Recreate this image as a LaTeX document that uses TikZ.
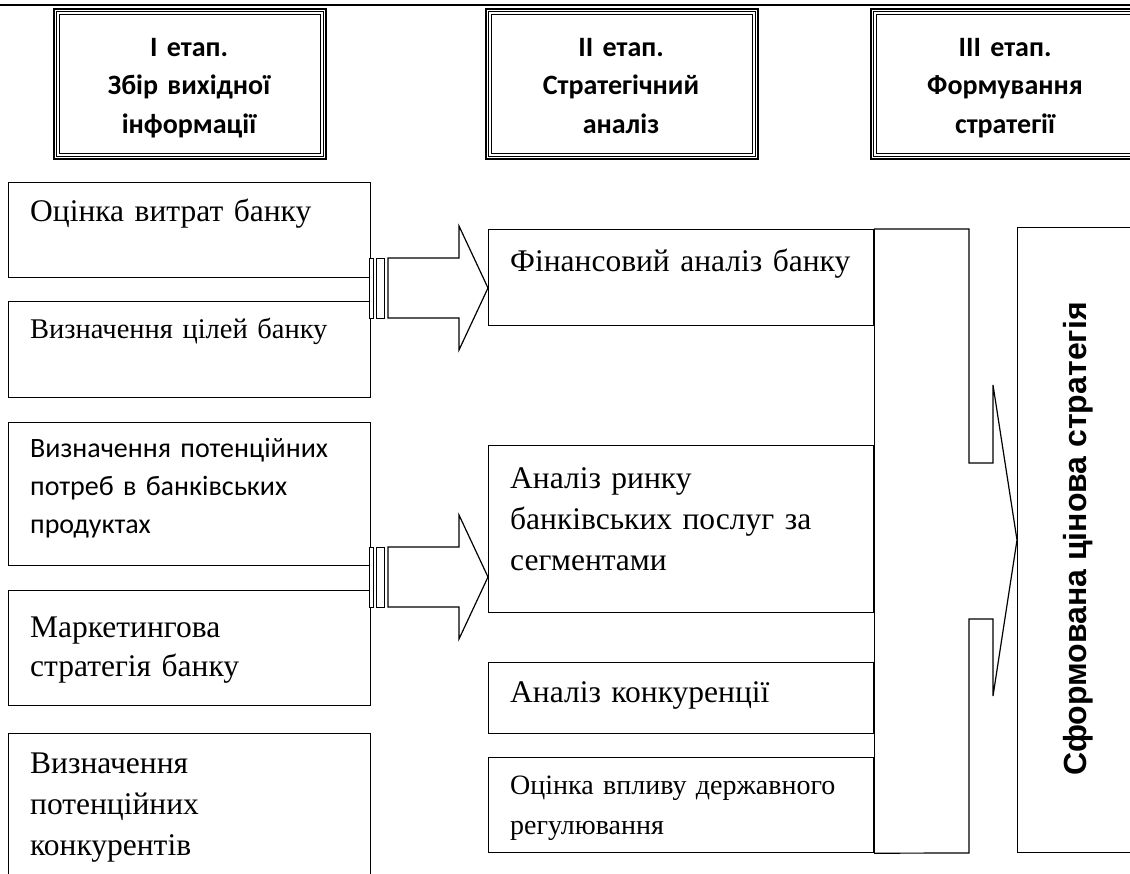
\documentclass[tikz,border=0pt]{standalone}
\usepackage{fontspec}
\setmainfont{Liberation Serif}
\newfontfamily\calfont{Carlito}
\newfontfamily\arialfont{Liberation Sans}
\usetikzlibrary{calc}
\begin{document}
\begin{tikzpicture}[x=1pt,y=-1pt,
  box/.style={draw, line width=1.2pt, anchor=north west, inner sep=0pt},
  hbox/.style={draw, line width=2pt, anchor=north west, inner sep=0pt, minimum width=272pt, minimum height=150pt},
  txt/.style={anchor=base west, inner sep=0pt, align=left, text width=#1},
  htxt/.style={anchor=base, inner sep=0pt, align=center, text width=260pt, font=\calfont\bfseries\fontsize{28}{38.5}\selectfont},
  blk/.style={draw, line width=1.2pt, fill=white},
  stripe/.style={draw, line width=0.8pt, fill=white}
]
\useasboundingbox (0,0) rectangle (1130,874);
\clip (0,0) rectangle (1130,874);
\fill[white] (0,0) rectangle (1130,874);

% top rule
\draw[line width=2pt] (0,5.5) -- (1130,5.5);

% header boxes
\node[hbox] (h1) at (53,8) {};
\node[hbox] (h2) at (485,8) {};
\node[hbox] (h3) at (870,8) {};
\foreach \h in {h1,h2,h3}{
  \draw[line width=0.8pt] ([shift={(3.8,3.8)}]\h.north west) rectangle ([shift={(-3.8,-3.8)}]\h.south east);
  \draw[line width=1.2pt] ([shift={(6.5,6.5)}]\h.north west) rectangle ([shift={(-6.5,-6.5)}]\h.south east);
}
\node[htxt] (h1t) at (189,56.5) {I етап.\\Збір вихідної\\інформації};
\node[htxt] (h2t) at (621,56.5) {II етап.\\Стратегічний\\аналіз};
\node[htxt] (h3t) at (1005,56.5) {III етап.\\Формування\\стратегії};

% left column
\node[box, minimum width=362pt, minimum height=95pt] (l1) at (8,182) {};
\node[txt=345pt, font=\fontsize{31.5}{38}\selectfont] (l1t) at (30,222) {Оцінка витрат банку};
\node[box, minimum width=362pt, minimum height=96pt] (l2) at (8,301) {};
\node[txt=345pt, font=\fontsize{28.5}{38}\selectfont] (l2t) at (30,339) {Визначення цілей банку};
\node[box, minimum width=362pt, minimum height=143pt] (l3) at (8,422) {};
\node[txt=345pt, font=\calfont\fontsize{28}{38}\selectfont] (l3t) at (30,457) {Визначення потенційних\\потреб в банківських\\продуктах};
\node[box, minimum width=362pt, minimum height=115pt] (l4) at (8,590) {};
\node[txt=345pt, font=\fontsize{31.5}{39}\selectfont] (l4t) at (30,637) {Маркетингова\\стратегія банку};
\node[box, minimum width=362pt, minimum height=160pt] (l5) at (8,733) {};
\node[txt=345pt, font=\fontsize{31.5}{41}\selectfont] (l5t) at (30,773) {Визначення\\потенційних\\конкурентів};

% middle column
\node[box, minimum width=385pt, minimum height=96pt] (m1) at (488,229) {};
\node[txt=360pt, font=\fontsize{31.5}{40}\selectfont] (m1t) at (510,272) {Фінансовий аналіз банку};
\node[box, minimum width=385pt, minimum height=167pt] (m2) at (488,445) {};
\node[txt=360pt, font=\fontsize{31.5}{41}\selectfont] (m2t) at (510,488) {Аналіз ринку\\банківських послуг за\\сегментами};
\node[box, minimum width=385pt, minimum height=71pt] (m3) at (488,662) {};
\node[txt=360pt, font=\fontsize{31.5}{40}\selectfont] (m3t) at (510,702) {Аналіз конкуренції};
\node[box, minimum width=385pt, minimum height=95pt] (m4) at (488,757) {};
\node[txt=360pt, font=\fontsize{28}{40}\selectfont] (m4t) at (510,794) {Оцінка впливу державного\\регулювання};

% striped arrows from left column to middle column
\foreach \yc/\tgt in {288/m1, 577/m2}{
  \draw[stripe] (369,\yc-30) rectangle (373,\yc+30);
  \draw[stripe] (376,\yc-30) rectangle (384,\yc+30);
  \draw[blk] (388,\yc-30) -- (459,\yc-30) -- (459,\yc-62) -- (\tgt.west |- 0,\yc) -- (459,\yc+62) -- (459,\yc+30) -- (388,\yc+30) -- cycle;
}

% result box
\node[box, minimum width=140pt, minimum height=625pt] (res) at (1017,227) {};
\node[rotate=90, inner sep=0pt, font=\arialfont\bfseries\fontsize{32}{38}\selectfont] (rest) at (1078,539) {Сформована цінова стратегія};

% collecting arrow
\coordinate (tip) at (res.west |- 0,540);
\draw[line width=1.2pt] (m1.north east) -- (m4.south east);
\draw[line width=1.2pt, line join=miter] (m1.north east) -- (969,229) -- (969,463) -- (993,463) -- (993,385) -- (tip) -- (993,696) -- (993,619) -- (969,619) -- (969,853) -- (m4.south east);
\end{tikzpicture}
\end{document}
